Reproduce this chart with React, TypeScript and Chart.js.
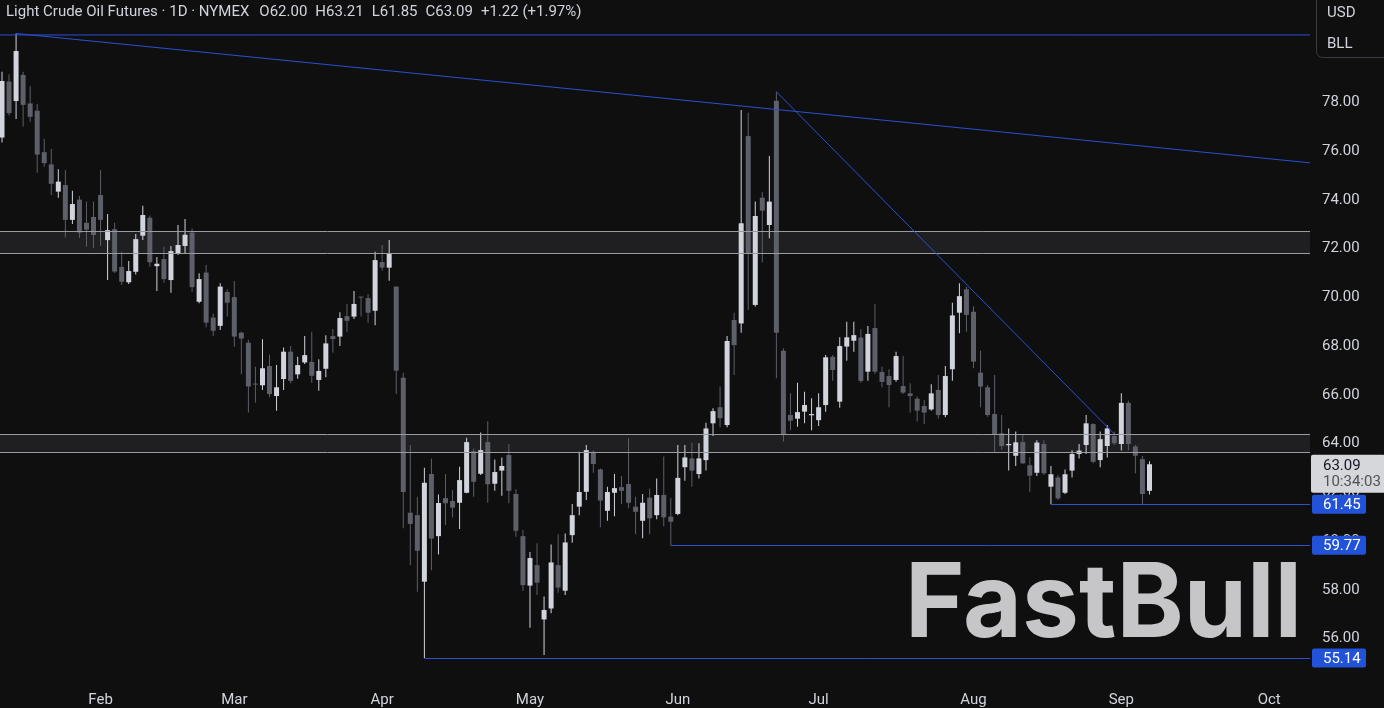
import { useEffect, useRef } from 'react';
import { Chart, registerables } from 'chart.js';

Chart.register(...registerables);

// ---- data (trading-day index 0 = 13 Jan 2025) ----
const opens = [
  76.5, 78.8, 78.0, 79.07, 77.9, 77.6, 75.9, 75.4, 74.28, 74.55,
  73.12, 73.95, 73.0, 73.24, 74.14, 72.29, 72.74, 71.19, 70.56, 70.99,
  72.47, 73.21, 71.22, 71.51, 70.65, 71.72, 72.05, 72.6, 69.76, 70.96,
  69.11, 68.77, 70.16, 69.95, 68.49, 68.08, 66.4, 66.33, 67.12, 65.89,
  66.59, 67.71, 66.78, 67.27, 67.29, 66.55, 67.01, 68.35, 68.33, 69.17,
  69.15, 69.95, 69.91, 69.39, 71.39, 71.16, 70.38, 66.64, 61.1, 61.0,
  58.27, 62.69, 60.14, 61.7, 61.58, 61.51, 61.92, 63.63, 62.7, 64.0,
  62.29, 62.83, 63.47, 61.87, 60.14, 58.11, 58.95, 56.72, 57.17, 58.95,
  57.9, 60.18, 61.35, 61.96, 63.6, 62.88, 61.18, 61.92, 62.15, 62.28,
  61.35, 60.77, 61.72, 61.0, 61.83, 60.94, 61.05, 62.97, 63.33, 62.69,
  63.26, 64.77, 65.43, 64.7, 69.01, 68.87, 76.56, 69.63, 74.03, 72.91,
  78.01, 67.75, 65.11, 64.96, 65.25, 65.1, 64.9, 65.52, 67.5, 65.66,
  67.92, 68.16, 68.29, 66.89, 68.68, 66.88, 66.71, 66.55, 66.3, 66.0,
  65.78, 65.48, 65.34, 66.14, 65.11, 66.99, 69.31, 70.27, 69.35, 66.85,
  66.25, 65.15, 64.36, 63.87, 63.44, 64.0, 63.05, 62.74, 63.92, 62.17,
  62.55, 61.92, 62.83, 63.51, 63.88, 64.74, 63.26, 63.84, 64.25, 63.92,
  65.61, 63.82, 63.3, 62.0,
];
const highs = [
  79.2, 79.1, 80.77, 79.2, 78.6, 77.88, 76.45, 76.03, 75.2, 75.17,
  74.32, 74.1, 73.87, 73.87, 75.17, 73.36, 73.0, 71.81, 71.43, 72.54,
  73.7, 73.3, 71.6, 72.02, 72.05, 72.91, 73.16, 72.77, 70.93, 71.27,
  69.28, 70.52, 70.27, 70.61, 68.53, 68.19, 67.09, 68.22, 67.6, 67.16,
  67.88, 67.94, 67.5, 68.35, 68.53, 67.4, 68.38, 68.64, 69.33, 69.67,
  70.2, 69.97, 70.07, 71.81, 72.09, 72.29, 70.4, 66.85, 63.88, 61.76,
  62.95, 63.33, 61.85, 62.69, 62.03, 62.99, 64.18, 63.74, 64.39, 64.86,
  63.29, 63.37, 63.92, 62.06, 60.39, 59.49, 59.85, 57.66, 59.8, 60.22,
  60.25, 61.46, 63.6, 63.88, 63.65, 62.92, 62.17, 62.69, 62.61, 64.16,
  61.76, 61.87, 62.1, 62.51, 63.41, 61.7, 63.88, 63.88, 63.97, 63.95,
  64.79, 65.39, 66.28, 68.35, 69.31, 77.63, 77.52, 73.87, 74.25, 75.74,
  78.38, 67.85, 66.0, 66.44, 66.07, 65.8, 66.0, 67.57, 67.57, 68.3,
  68.94, 68.94, 68.63, 68.76, 69.67, 67.09, 66.99, 67.71, 67.53, 66.41,
  65.87, 65.73, 66.37, 66.75, 67.12, 69.72, 70.52, 70.38, 69.58, 67.75,
  66.34, 66.75, 65.11, 64.56, 64.43, 64.29, 63.38, 64.08, 64.08, 63.02,
  62.65, 62.88, 63.67, 63.92, 65.11, 64.77, 64.43, 64.7, 64.43, 66.0,
  65.7, 63.88, 63.43, 63.21,
];
const lows = [
  76.3, 77.4, 77.26, 76.95, 77.15, 75.05, 75.3, 74.14, 74.03, 72.4,
  72.95, 72.38, 72.02, 71.96, 72.06, 70.65, 70.94, 70.45, 70.49, 70.88,
  72.29, 71.2, 70.2, 70.54, 70.13, 71.68, 71.75, 70.17, 69.7, 68.71,
  68.35, 68.6, 69.15, 67.91, 66.79, 65.21, 65.62, 66.14, 65.84, 65.29,
  66.14, 66.41, 66.6, 67.2, 66.44, 66.11, 66.66, 67.67, 67.94, 68.53,
  69.05, 69.15, 68.9, 68.8, 71.04, 70.62, 65.97, 60.46, 58.95, 57.86,
  55.14, 58.74, 59.39, 60.6, 60.9, 60.43, 61.9, 61.76, 62.65, 61.51,
  62.0, 61.8, 61.49, 60.11, 57.89, 56.38, 57.72, 55.26, 56.97, 57.82,
  57.72, 59.87, 61.0, 61.62, 62.74, 60.5, 60.77, 60.96, 61.46, 61.28,
  60.22, 60.05, 60.22, 60.83, 60.55, 59.77, 61.0, 62.41, 62.17, 62.51,
  62.83, 64.25, 64.61, 64.61, 66.75, 68.49, 69.42, 69.56, 71.37, 72.37,
  66.62, 64.02, 64.49, 64.63, 64.77, 64.49, 64.66, 65.25, 66.52, 65.41,
  67.34, 67.71, 66.44, 66.52, 66.79, 66.25, 65.43, 66.48, 65.97, 65.21,
  64.84, 64.74, 65.29, 64.97, 65.02, 66.52, 68.47, 68.53, 67.03, 65.43,
  65.04, 63.6, 63.7, 62.83, 63.02, 63.1, 61.96, 62.61, 62.65, 61.45,
  61.62, 61.87, 62.55, 63.33, 63.51, 63.13, 62.97, 63.37, 63.88, 63.65,
  63.67, 62.72, 61.46, 61.85,
];
const closes = [
  78.82, 77.5, 80.05, 77.84, 77.35, 75.8, 75.45, 74.6, 74.69, 73.12,
  73.77, 72.6, 72.72, 72.5, 73.12, 72.7, 71.0, 70.58, 71.02, 72.33,
  73.32, 71.38, 71.32, 70.69, 71.84, 72.09, 72.51, 70.36, 70.69, 68.9,
  68.57, 70.38, 69.72, 68.33, 68.25, 66.28, 66.36, 67.03, 65.97, 66.25,
  67.71, 66.51, 67.16, 67.57, 66.72, 66.92, 68.05, 68.23, 69.09, 68.98,
  69.67, 69.93, 69.31, 71.47, 71.16, 71.72, 66.93, 61.95, 60.64, 59.54,
  62.33, 60.04, 61.5, 61.49, 61.31, 62.44, 64.0, 62.37, 63.67, 62.27,
  62.77, 63.02, 62.0, 60.36, 58.13, 59.24, 58.23, 57.11, 59.06, 58.03,
  59.88, 61.0, 61.95, 63.67, 63.1, 61.6, 61.95, 62.11, 62.0, 61.51,
  61.14, 61.51, 60.87, 61.83, 60.91, 60.73, 62.53, 63.37, 62.83, 63.33,
  64.56, 65.27, 64.98, 68.15, 67.98, 72.98, 71.75, 73.28, 73.5, 73.87,
  68.49, 64.33, 64.88, 65.23, 65.52, 65.15, 65.43, 67.48, 66.96, 67.94,
  68.3, 68.39, 66.51, 68.44, 66.89, 66.47, 66.34, 67.53, 66.03, 65.89,
  65.29, 65.21, 66.0, 65.11, 66.71, 69.2, 69.99, 69.22, 67.3, 66.28,
  65.11, 64.32, 63.84, 63.92, 63.99, 63.13, 62.62, 63.98, 62.72, 62.68,
  61.69, 62.68, 63.51, 63.65, 64.77, 63.19, 64.12, 64.56, 63.95, 65.61,
  63.92, 63.44, 61.87, 63.09,
];

const monthTickIndex = [14, 33, 54, 75, 96, 116, 138, 159, 180];
const monthLabels = ['Feb', 'Mar', 'Apr', 'May', 'Jun', 'Jul', 'Aug', 'Sep', 'Oct'];
const priceTicks = [56, 58, 60, 62, 64, 66, 68, 70, 72, 74, 76, 78, 80];

const zoneLow = [71.76, 63.58];
const zoneHigh = [72.66, 64.33];
const levelPrices = [61.45, 59.77, 55.14];
const levelStart = [149, 95, 60];
const trendFrom = [[2, 80.77], [110, 78.38], [-1, 80.71]];
const trendTo = [[163, 76.12], [158, 64.33], [163, 80.71]];
const trendRay = [true, false, true];

const titleName = 'Light Crude Oil Futures · 1D · NYMEX';
const countdown = '10:34:03';
const currencyLines = ['USD', 'BLL'];

// ---- styles ----
const BG = '#0f0f10';
const BULL = '#d1d4dc';
const BEAR = '#5d5f69';
const BLUE = '#2c4fd4';
const BLUE_TAG = '#2152d8';
const TXT = '#d1d4dc';
const FONT = 'Roboto, "Noto Sans", sans-serif';

export default function App() {
  const ref = useRef<HTMLCanvasElement>(null);

  useEffect(() => {
    document.body.style.margin = '0';
    document.body.style.background = BG;
    const canvas = ref.current!;
    const colors = closes.map((c, i) => (c >= opens[i] ? BULL : BEAR));

    const overlay = {
      id: 'overlay',
      beforeDraw(chart: any) {
        const ctx = chart.ctx;
        ctx.save();
        ctx.fillStyle = BG;
        ctx.fillRect(0, 0, chart.width, chart.height);
        ctx.restore();
      },
      beforeDatasetsDraw(chart: any) {
        const ctx = chart.ctx;
        const a = chart.chartArea;
        const y = chart.scales.y;
        ctx.save();
        ctx.fillStyle = '#1f1f22';
        zoneLow.forEach((lo, i) => {
          const t = y.getPixelForValue(zoneHigh[i]);
          const b = y.getPixelForValue(lo);
          ctx.fillRect(a.left, t, a.right - a.left, b - t);
        });
        ctx.fillStyle = 'rgba(214,214,216,0.92)';
        ctx.font = `700 103px Inter, ${FONT}`;
        ctx.textBaseline = 'alphabetic';
        ctx.textAlign = 'left';
        ctx.fillText('FastBull', 905, 637, 397);
        ctx.restore();
      },
      afterDatasetsDraw(chart: any) {
        const ctx = chart.ctx;
        const a = chart.chartArea;
        const x = chart.scales.x;
        const y = chart.scales.y;
        ctx.save();
        ctx.beginPath();
        ctx.rect(a.left, a.top, a.right - a.left, a.bottom - a.top);
        ctx.clip();
        ctx.strokeStyle = '#9a9ba1';
        ctx.lineWidth = 1;
        [...zoneLow, ...zoneHigh].forEach((p) => {
          const py = Math.round(y.getPixelForValue(p)) + 0.5;
          ctx.beginPath();
          ctx.moveTo(a.left, py);
          ctx.lineTo(a.right, py);
          ctx.stroke();
        });
        ctx.strokeStyle = BLUE;
        trendFrom.forEach((f, i) => {
          const t = trendTo[i];
          const x1 = x.getPixelForValue(f[0]);
          const y1 = y.getPixelForValue(f[1]);
          let x2 = x.getPixelForValue(t[0]);
          let y2 = y.getPixelForValue(t[1]);
          if (trendRay[i]) {
            const k = (y2 - y1) / (x2 - x1);
            y2 = y1 + k * (a.right - x1);
            x2 = a.right;
          }
          ctx.beginPath();
          ctx.moveTo(x1, y1);
          ctx.lineTo(x2, y2);
          ctx.stroke();
        });
        levelPrices.forEach((p, i) => {
          const py = Math.round(y.getPixelForValue(p)) + 0.5;
          ctx.beginPath();
          ctx.moveTo(x.getPixelForValue(levelStart[i]), py);
          ctx.lineTo(a.right, py);
          ctx.stroke();
        });
        ctx.restore();
      },
      afterDraw(chart: any) {
        const ctx = chart.ctx;
        const a = chart.chartArea;
        const y = chart.scales.y;
        const n = closes.length;
        ctx.save();
        ctx.font = `15px ${FONT}`;
        ctx.textBaseline = 'middle';
        ctx.textAlign = 'left';
        levelPrices.forEach((p) => {
          const py = y.getPixelForValue(p);
          ctx.fillStyle = BLUE_TAG;
          ctx.beginPath();
          ctx.roundRect(a.right + 2, py - 9.5, 54, 19, 2);
          ctx.fill();
          ctx.fillStyle = '#ffffff';
          ctx.fillText(p.toFixed(2), a.right + 13, py + 1.5);
        });
        const last = closes[n - 1];
        const ly = y.getPixelForValue(last);
        ctx.fillStyle = '#d6d7db';
        ctx.beginPath();
        ctx.roundRect(a.right + 1, ly - 9.5, chart.width - a.right, 38, 2);
        ctx.fill();
        ctx.fillStyle = '#131722';
        ctx.fillText(last.toFixed(2), a.right + 13, ly + 1.5);
        ctx.fillStyle = '#4e515a';
        ctx.fillText(countdown, a.right + 13, ly + 18);
        ctx.fillStyle = BG;
        ctx.strokeStyle = '#3a3c43';
        ctx.lineWidth = 1;
        ctx.beginPath();
        ctx.roundRect(a.right + 6.5, -10, 120, 67.5, 6);
        ctx.fill();
        ctx.stroke();
        ctx.fillStyle = TXT;
        ctx.fillText(currencyLines[0], a.right + 17, 13);
        ctx.fillText(currencyLines[1], a.right + 17, 44);
        const o = opens[n - 1];
        const h = highs[n - 1];
        const l = lows[n - 1];
        const c = closes[n - 1];
        const ch = c - closes[n - 2];
        const pct = (ch / closes[n - 2]) * 100;
        const sign = ch >= 0 ? '+' : '−';
        let tx = 6;
        const ty = 12;
        ctx.fillStyle = TXT;
        ctx.fillText(titleName, tx, ty);
        tx += ctx.measureText(titleName).width + 10;
        const tokens = [
          'O' + o.toFixed(2),
          'H' + h.toFixed(2),
          'L' + l.toFixed(2),
          'C' + c.toFixed(2),
          `${sign}${Math.abs(ch).toFixed(2)} (${sign}${Math.abs(pct).toFixed(2)}%)`,
        ];
        tokens.forEach((t) => {
          ctx.fillText(t, tx, ty);
          tx += ctx.measureText(t).width + 8;
        });
        ctx.restore();
      },
    };

    const chart = new Chart(canvas, {
      type: 'bar',
      data: {
        datasets: [
          {
            label: 'wick',
            data: lows.map((lo, i) => ({ x: i, y: [lo, highs[i]] })) as any,
            backgroundColor: colors,
            barThickness: 1,
            grouped: false,
            order: 1,
            inflateAmount: 0,
          } as any,
          {
            label: 'body',
            data: opens.map((op, i) => ({ x: i, y: [op, closes[i]] })) as any,
            backgroundColor: colors,
            barThickness: 5,
            grouped: false,
            order: 0,
            minBarLength: 1,
            inflateAmount: 0,
          } as any,
        ],
      },
      options: {
        animation: false,
        responsive: false,
        devicePixelRatio: 1,
        events: [],
        layout: { padding: 0 },
        plugins: {
          legend: { display: false },
          tooltip: { enabled: false },
        },
        scales: {
          x: {
            type: 'linear',
            min: -0.284,
            max: 185.8,
            offset: false,
            grid: { display: false, drawTicks: false },
            border: { display: false },
            afterBuildTicks: (s: any) => {
              s.ticks = monthTickIndex.map((v) => ({ value: v }));
            },
            afterFit: (s: any) => {
              s.height = 25;
              s.paddingLeft = 0;
              s.paddingRight = 0;
            },
            ticks: {
              autoSkip: false,
              maxRotation: 0,
              padding: 8,
              color: TXT,
              font: { family: FONT, size: 15 },
              callback: (_v: any, i: number) => monthLabels[i],
            },
          },
          y: {
            type: 'linear',
            position: 'right',
            min: 54.112,
            max: 82.145,
            grid: { display: false, drawTicks: false },
            border: { display: false },
            afterBuildTicks: (s: any) => {
              s.ticks = priceTicks.map((v) => ({ value: v }));
            },
            afterFit: (s: any) => {
              s.width = 74;
              s.paddingTop = 0;
              s.paddingBottom = 0;
            },
            ticks: {
              padding: 12,
              labelOffset: 1.5,
              color: TXT,
              font: { family: FONT, size: 15 },
              callback: (v: any) => Number(v).toFixed(2),
            },
          },
        },
      } as any,
      plugins: [overlay],
    });
    return () => chart.destroy();
  }, []);

  return (
    <div style={{ width: 1384, height: 708, background: BG }}>
      <canvas ref={ref} width={1384} height={708} style={{ display: 'block' }} />
    </div>
  );
}
